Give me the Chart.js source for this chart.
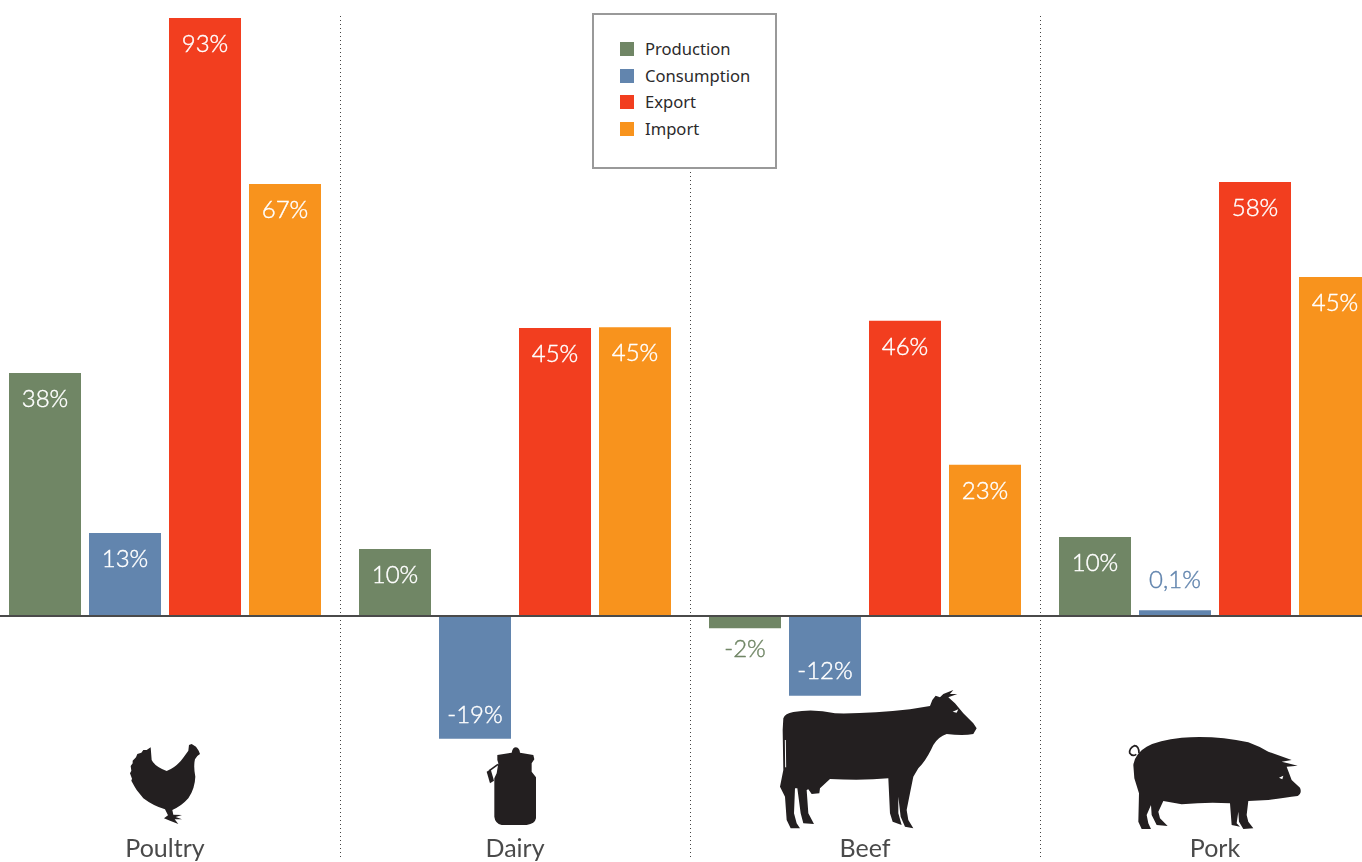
<!DOCTYPE html>
<html>
<head>
  <meta charset="utf-8">
  <title>Production, consumption, export and import</title>
  <script src="https://cdn.jsdelivr.net/npm/chart.js"></script>
  <style>
    html, body { margin: 0; padding: 0; background: #fff; overflow: hidden; }
    #stage { position: relative; width: 1362px; height: 862px; overflow: hidden; }
    #chart { position: absolute; left: -10px; top: 0; }
    #icons { position: absolute; left: 0; top: 0; }
    #legend {
      position: absolute; left: 592px; top: 13px; width: 181px; height: 152px;
      background: #fff; border: 2px solid #999;
      font: 16.6px "Noto Sans", sans-serif; color: #2b2a2b;
    }
    #legend div { position: absolute; left: 51px; line-height: 20px; white-space: nowrap; }
    #legend i { position: absolute; left: -25px; top: 3px; width: 14px; height: 14px; }
  </style>
</head>
<body>
<div id="stage">
  <canvas id="chart" width="1400" height="862"></canvas>
  <svg id="icons" width="1362" height="862" fill="#231f20">
    <!-- poultry -->
    <g transform="translate(110 730) scale(.3333)">
      <path d="M122 52 L125 90 Q135 110 170 123 Q200 112 222 80 L235 62 L237 45 L245 42 L258 50 L266 62 L270 72 L262 78 L255 88 Q250 110 256 140 Q255 175 235 205 Q215 228 187 240 L190 254 L216 255 L197 261 L216 268 L194 268 L205 282 L180 272 L162 265 L174 256 L165 238 Q130 228 100 205 L80 180 L74 170 L64 152 L66 146 L60 130 L64 122 L62 108 L68 100 L68 92 L78 82 L82 72 L94 68 L100 60 L110 60 Z"/>
    </g>
    <!-- dairy -->
    <g transform="translate(470 740) scale(.3333)">
      <path d="M82 45 L125 38 Q128 22 138 22 Q149 24 150 38 L190 45 L193 58 L185 70 L185 95 L198 112 L198 235 Q195 252 170 255 L95 255 Q75 250 73 230 L73 115 L80 100 L85 70 L82 60 Z"/>
      <path d="M50 95 L62 88 L72 122 L60 130 Z"/>
      <path d="M58 92 L84 73" stroke="#231f20" stroke-width="5" fill="none"/>
    </g>
    <!-- beef -->
    <g transform="translate(770 680) scale(.3333)">
      <path d="M40 115 Q45 100 70 96 Q130 85 195 100 Q300 102 420 88 L480 78 L487 60 L497 47 L510 52 L520 42 L550 30 L540 42 L562 42 L535 52 L555 70 L580 100 L610 130 L620 145 L610 162 Q580 168 530 162 Q505 170 490 195 Q470 240 445 265 L430 290 L420 340 L410 390 L415 420 L430 445 L405 440 L392 410 L385 350 L385 400 L395 435 L368 425 L360 400 L355 295 Q280 302 180 297 L150 325 L148 340 L125 342 L115 328 L110 330 L115 400 L132 432 L100 430 L92 400 L82 325 L75 325 L72 400 L80 430 L90 445 L62 445 L50 420 L45 350 L30 320 L40 270 L38 150 Z"/>
      <path d="M46 180 L47 262" stroke="#fff" stroke-width="3" fill="none"/>
      <path d="M548 95 L565 88 L560 98 Z" fill="#fff"/>
    </g>
    <!-- pork -->
    <g transform="translate(1115 725) scale(.3333)">
      <path d="M55 120 Q60 85 95 65 Q130 45 200 38 Q300 30 400 52 Q435 65 460 80 L530 105 L500 110 L548 122 L515 125 L530 165 L555 188 Q562 205 548 213 Q510 218 460 225 L400 228 L395 270 L400 290 L415 310 L385 312 L372 290 L370 260 L365 295 L375 305 L350 300 L345 235 Q280 230 200 238 L145 228 L130 260 L135 280 L158 303 L125 300 L110 270 L108 240 L95 270 L100 295 L108 312 L80 312 L70 290 L72 205 L58 160 Z"/>
      <path d="M72 85 Q72 62 58 62 Q42 70 44 84 Q52 96 64 88" stroke="#231f20" stroke-width="5" fill="none"/>
      <path d="M492 158 L505 152 L502 163 Z" fill="#fff"/>
    </g>
  </svg>
  <div id="legend"></div>
</div>

<script>
  const categories = ['Poultry', 'Dairy', 'Beef', 'Pork'];
  const seriesNames = ['Production', 'Consumption', 'Export', 'Import'];
  const seriesColors = ['#708665', '#6285ae', '#f23e1f', '#f8931d'];

  // bar heights as drawn in the picture (not always the printed number, pork especially)
  const production = [37.8, 10.4, -1.9, 12.3];
  const consumption = [12.9, -19.1, -12.4, 0.9];
  const exportShare = [93, 44.8, 45.9, 67.5];
  const importShare = [67.2, 44.9, 23.5, 52.7];

  // printed labels
  const productionLabels = ['38%', '10%', '-2%', '10%'];
  const consumptionLabels = ['13%', '-19%', '-12%', '0,1%'];
  const exportLabels = ['93%', '45%', '46%', '58%'];
  const importLabels = ['67%', '45%', '23%', '45%'];

  const seriesValues = [production, consumption, exportShare, importShare];
  const seriesLabels = [productionLabels, consumptionLabels, exportLabels, importLabels];

  const barLabels = {
    id: 'barLabels',
    afterDatasetsDraw(chart) {
      const ctx = chart.ctx;
      ctx.save();
      ctx.font = '300 24px Lato, sans-serif';
      ctx.textAlign = 'center';
      ctx.textBaseline = 'middle';
      ctx.lineWidth = 0.4; // light weight alone is too thin, thicken a little
      chart.data.datasets.forEach((ds, i) => {
        chart.getDatasetMeta(i).data.forEach((bar, j) => {
          const h = Math.abs(bar.base - bar.y);
          const up = ds.data[j] >= 0;
          let y;
          if (h > 30) {
            ctx.fillStyle = '#fff';
            y = up ? bar.y + 26 : bar.y - 24;
          } else {
            ctx.fillStyle = ds.backgroundColor;
            y = up ? bar.y - 30 : bar.y + 21;
          }
          ctx.strokeStyle = ctx.fillStyle;
          ctx.fillText(seriesLabels[i][j], bar.x, y);
          ctx.strokeText(seriesLabels[i][j], bar.x, y);
        });
      });
      ctx.restore();
    }
  };

  const chart = new Chart(document.getElementById('chart'), {
    type: 'bar',
    data: {
      labels: categories,
      datasets: seriesNames.map((name, i) => ({
        label: name,
        data: seriesValues[i],
        backgroundColor: seriesColors[i],
        categoryPercentage: 320 / 350,
        barPercentage: 0.9
      }))
    },
    options: {
      responsive: false,
      animation: false,
      layout: { padding: { top: 16 } },
      plugins: { legend: { display: false }, tooltip: { enabled: false } },
      scales: {
        x: {
          afterFit: (s) => { s.height = 4; },
          grid: { offset: true, color: '#444', lineWidth: 1, drawTicks: false },
          border: { display: false, dash: [1, 3] },
          ticks: {
            mirror: true, // mirrored labels are not clipped to the thin axis box
            padding: -6,
            maxRotation: 0,
            minRotation: 0,
            color: '#4a4a4a',
            font: { family: 'Lato, sans-serif', size: 25 }
          }
        },
        y: {
          min: -37.64,
          max: 93.31,
          afterFit: (s) => { s.width = 0; },
          ticks: { display: false, stepSize: 100 },
          border: { display: false },
          grid: {
            drawTicks: false,
            lineWidth: 2,
            color: (c) => (c.tick && c.tick.value === 0 ? '#4a4a4a' : 'transparent')
          }
        }
      }
    },
    plugins: [barLabels]
  });

  // legend box, filled from the chart's datasets
  const legend = document.getElementById('legend');
  const rowTops = [24, 51, 77, 104];
  chart.data.datasets.forEach((ds, i) => {
    const row = document.createElement('div');
    row.style.top = rowTops[i] + 'px';
    row.innerHTML = '<i style="background:' + ds.backgroundColor + '"></i>' + ds.label;
    legend.appendChild(row);
  });
</script>
</body>
</html>
